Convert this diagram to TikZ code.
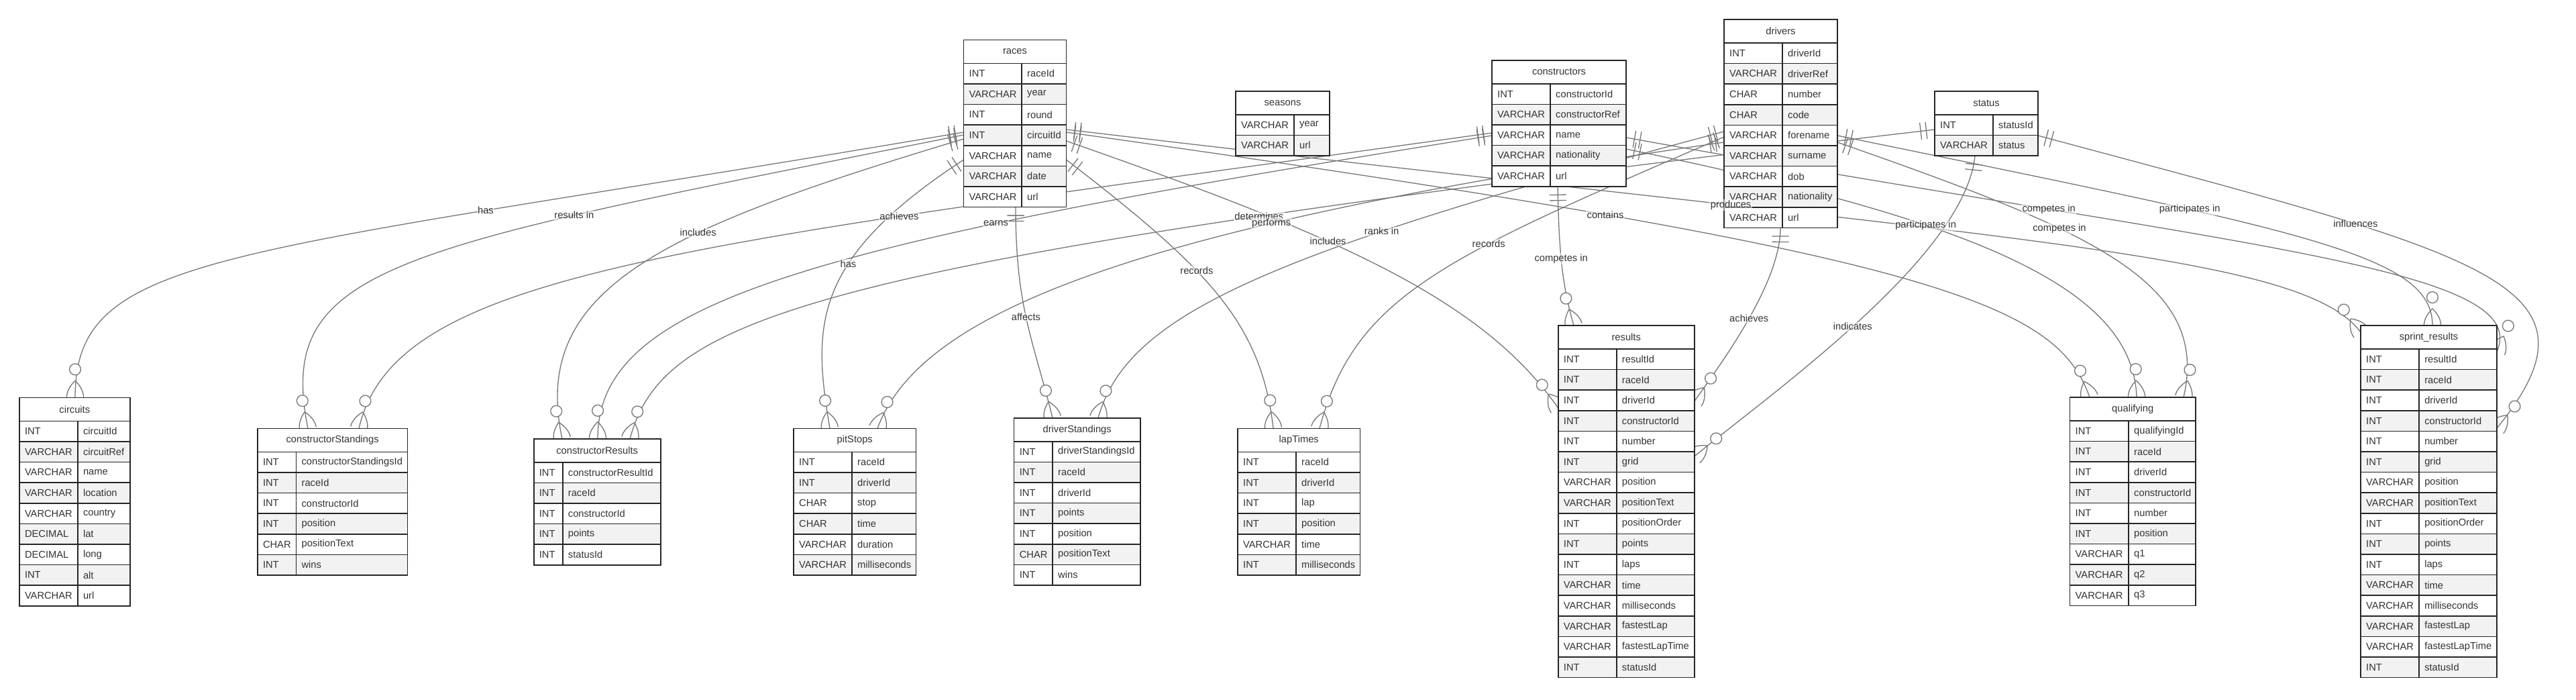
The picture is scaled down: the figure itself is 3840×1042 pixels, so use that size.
\documentclass[tikz,border=0pt]{standalone}
\usepackage{fontspec}
\setmainfont{Liberation Sans}
\usetikzlibrary{calc,decorations.markings}

\definecolor{linkgray}{RGB}{118,118,118}
\definecolor{rowgray}{RGB}{242,242,242}
\definecolor{textgray}{RGB}{51,51,51}
\newcommand{\erfont}{\fontsize{14.7}{17}\selectfont}

\pgfdeclarelayer{bg}
\pgfdeclarelayer{edges}
\pgfsetlayers{bg,edges,main}

% #1 node name, #2 title, #3 x, #4 y, #5 type width, #6 attribute width, #7 rows, #8 type/attribute list
\newcommand{\ertable}[8]{%
  \node[tbox,minimum width={(#5+#6)*1pt},minimum height={(35+#7*30.6)*1pt}] (#1) at (#3,#4) {};
  \draw[tline,fill=white] (#3,#4) rectangle ++(#5+#6,35);
  \node[ttl] at (#3+0.5*#5+0.5*#6,#4+17.5) {#2};
  \foreach \ty/\attr [count=\i] in {#8} {
    \pgfmathsetmacro\rowtop{#4+35+(\i-1)*30.6}
    \ifodd\i \def\rowfill{white}\else \def\rowfill{rowgray}\fi
    \draw[tline,fill=\rowfill] (#3,\rowtop) rectangle ++(#5,30.6);
    \draw[tline,fill=\rowfill] (#3+#5,\rowtop) rectangle ++(#6,30.6);
    \node[attrcell] at (#3+8,\rowtop+15.3) {\ty};
    \node[attrcell] at (#3+#5+8,\rowtop+15.3) {\attr};
  }
}

% #1 from, #2 controls, #3 to, #4 label, #5 label pos
\newcommand{\erlink}[5]{%
  \begin{pgfonlayer}{edges}
    \draw[link] #1 .. controls #2 .. #3;
  \end{pgfonlayer}
  \path #1 .. controls #2 .. #3 node[lbl,pos=#5] {#4};
}

\begin{document}
\begin{tikzpicture}[x=1pt,y=-1pt,
  tbox/.style={inner sep=0pt,outer sep=0pt,anchor=north west},
  tline/.style={draw=black!85,line width=1.6pt},
  attrcell/.style={anchor=west,inner sep=0pt,text=textgray,font=\erfont},
  ttl/.style={inner sep=0pt,text=textgray,font=\erfont},
  lbl/.style={fill=white,fill opacity=0.5,text opacity=1,text=textgray,font=\erfont,inner sep=1.5pt},
  link/.style={draw=linkgray,line width=1.3pt,postaction={decorate},
    decoration={markings,
      mark=at position 0.2pt with {\draw[linkgray,line width=1.3pt] (12.4pt,-12.6pt) -- (12.4pt,12.6pt) (20.8pt,-12.6pt) -- (20.8pt,12.6pt);},
      mark=at position -0.2pt with {\draw[linkgray,line width=1.3pt] (-25pt,0pt) .. controls (-16.6pt,8.4pt) and (-8.2pt,12.6pt) .. (0.2pt,12.6pt)
          (-25pt,0pt) .. controls (-16.6pt,-8.4pt) and (-8.2pt,-12.6pt) .. (0.2pt,-12.6pt);
        \draw[linkgray,line width=1.3pt,fill=white] (-41.8pt,0pt) circle[radius=8.4pt];}}}]

\useasboundingbox (0,0) rectangle (3840,1042);
\begin{pgfonlayer}{bg}
  \fill[white] (0,0) rectangle (3840,1042);
\end{pgfonlayer}

\ertable{races}{races}{1436.5}{59.3}{86.5}{66.5}{7}{INT/raceId,VARCHAR/year,INT/round,INT/circuitId,VARCHAR/name,VARCHAR/date,VARCHAR/url}
\ertable{seasons}{seasons}{1842}{135.7}{87}{53}{2}{VARCHAR/year,VARCHAR/url}
\ertable{constructors}{constructors}{2224}{89.7}{87}{113}{5}{INT/constructorId,VARCHAR/constructorRef,VARCHAR/name,VARCHAR/nationality,VARCHAR/url}
\ertable{drivers}{drivers}{2570}{29}{87}{82}{9}{INT/driverId,VARCHAR/driverRef,CHAR/number,CHAR/code,VARCHAR/forename,VARCHAR/surname,VARCHAR/dob,VARCHAR/nationality,VARCHAR/url}
\ertable{status}{status}{2884}{136}{87}{67}{2}{INT/statusId,VARCHAR/status}
\ertable{circuits}{circuits}{28.8}{592.3}{87}{78}{9}{INT/circuitId,VARCHAR/circuitRef,VARCHAR/name,VARCHAR/location,VARCHAR/country,DECIMAL/lat,DECIMAL/long,INT/alt,VARCHAR/url}
\ertable{constructorStandings}{constructorStandings}{383.8}{638.3}{57.6}{166}{6}{INT/constructorStandingsId,INT/raceId,INT/constructorId,INT/position,CHAR/positionText,INT/wins}
\ertable{constructorResults}{constructorResults}{795.7}{653.7}{43}{146}{5}{INT/constructorResultId,INT/raceId,INT/constructorId,INT/points,INT/statusId}
\ertable{pitStops}{pitStops}{1183}{638.3}{87}{95.5}{6}{INT/raceId,INT/driverId,CHAR/stop,CHAR/time,VARCHAR/duration,VARCHAR/milliseconds}
\ertable{driverStandings}{driverStandings}{1511.6}{622.7}{57.4}{130.7}{7}{INT/driverStandingsId,INT/raceId,INT/driverId,INT/points,INT/position,CHAR/positionText,INT/wins}
\ertable{lapTimes}{lapTimes}{1845}{638.3}{87}{95.5}{6}{INT/raceId,INT/driverId,INT/lap,INT/position,VARCHAR/time,INT/milliseconds}
\ertable{results}{results}{2322.7}{485}{87}{116}{16}{INT/resultId,INT/raceId,INT/driverId,INT/constructorId,INT/number,INT/grid,VARCHAR/position,VARCHAR/positionText,INT/positionOrder,INT/points,INT/laps,VARCHAR/time,VARCHAR/milliseconds,VARCHAR/fastestLap,VARCHAR/fastestLapTime,INT/statusId}
\ertable{qualifying}{qualifying}{3085.5}{592}{87.5}{100}{9}{INT/qualifyingId,INT/raceId,INT/driverId,INT/constructorId,INT/number,INT/position,VARCHAR/q1,VARCHAR/q2,VARCHAR/q3}
\ertable{sprintResults}{sprint\_results}{3519}{485}{87}{116}{16}{INT/resultId,INT/raceId,INT/driverId,INT/constructorId,INT/number,INT/grid,VARCHAR/position,VARCHAR/positionText,INT/positionOrder,INT/points,INT/laps,VARCHAR/time,VARCHAR/milliseconds,VARCHAR/fastestLap,VARCHAR/fastestLapTime,INT/statusId}

\erlink{($(races.north west)+(0,137.7)$)}{+(-1100.5,187) and +(0,-220)}{($(circuits.north west)+(83.2,0)$)}{has}{0.27}
\erlink{($(races.north west)+(0,141.7)$)}{+(-850.5,170) and +(-49,-245)}{($(constructorStandings.north west)+(75.2,0)$)}{results in}{0.29}
\erlink{($(races.north west)+(0,147.7)$)}{+(-450,135) and +(-48,-224)}{($(constructorResults.north west)+(42.3,0)$)}{includes}{0.37}
\erlink{($(constructors.north west)+(0,108.3)$)}{+(-1200,168) and +(55,-238)}{($(constructorStandings.north west)+(151.2,0)$)}{achieves}{0.3}
\erlink{($(constructors.north west)+(0,112.3)$)}{+(-1024,163) and +(0,-204)}{($(constructorResults.north west)+(95.3,0)$)}{earns}{0.3}
\erlink{($(status.north west)+(0,57)$)}{+(-1684,197) and +(51,-184)}{($(constructorResults.north west)+(143.3,0)$)}{determines}{0.25}
\erlink{($(drivers.north west)+(0,183)$)}{+(-900,128) and +(62,-168)}{($(pitStops.north west)+(125,0)$)}{performs}{0.31}
\erlink{($(races.north west)+(0,178.7)$)}{+(-230,150) and +(-25,-150)}{($(pitStops.north west)+(54,0)$)}{has}{0.38}
\erlink{($(races.south west)+(77.5,0)$)}{+(0,150) and +(-29,-117)}{($(driverStandings.north west)+(57.4,0)$)}{affects}{0.48}
\erlink{($(races.north east)+(0,178.7)$)}{+(210.5,162) and +(-18,-158)}{($(lapTimes.north west)+(53,0)$)}{records}{0.4}
\erlink{($(races.north east)+(0,150.7)$)}{+(400,140) and +(-113.7,-164)}{($(results.north west)+(0,123)$)}{includes}{0.39}
\erlink{($(races.north east)+(0,137.7)$)}{+(1300,182) and +(-50,-141)}{($(qualifying.north west)+(29.5,0)$)}{contains}{0.26}
\erlink{($(races.north east)+(0,133.7)$)}{+(1400,165) and +(-90,-120)}{($(sprintResults.north west)+(0,10)$)}{produces}{0.29}
\erlink{($(constructors.south west)+(98,0)$)}{+(2,102) and +(-17,-59)}{($(results.north west)+(23.3,0)$)}{competes in}{0.44}
\erlink{($(drivers.south west)+(84,0)$)}{+(0,80.6) and +(46.3,-65)}{($(results.north east)+(0,113)$)}{achieves}{0.5}
\erlink{($(status.south west)+(60,0)$)}{+(-15,150) and +(115.3,-94.5)}{($(results.north east)+(0,195)$)}{indicates}{0.52}
\erlink{($(constructors.north east)+(0,132.3)$)}{+(526,108) and +(-5,-162)}{($(qualifying.north west)+(99.5,0)$)}{participates in}{0.35}
\erlink{($(drivers.north east)+(0,183)$)}{+(381,133) and +(40,-172)}{($(qualifying.north west)+(169.5,0)$)}{competes in}{0.36}
\erlink{($(constructors.north east)+(0,115.3)$)}{+(900,162) and +(56,-127.4)}{($(sprintResults.north east)+(0,39)$)}{competes in}{0.27}
\erlink{($(drivers.north east)+(0,173)$)}{+(700,143.5) and +(0,-105)}{($(sprintResults.north west)+(107,0)$)}{participates in}{0.32}
\erlink{($(status.north east)+(0,66)$)}{+(662,178) and +(178,-218)}{($(sprintResults.north east)+(0,153)$)}{influences}{0.3}
\erlink{($(drivers.north west)+(0,175)$)}{+(-420,181) and +(53,-198.3)}{($(lapTimes.north west)+(122,0)$)}{records}{0.36}
\erlink{($(drivers.north west)+(0,167)$)}{+(-690,184) and +(43,-152.7)}{($(driverStandings.north west)+(125.4,0)$)}{ranks in}{0.31}

\end{tikzpicture}
\end{document}
